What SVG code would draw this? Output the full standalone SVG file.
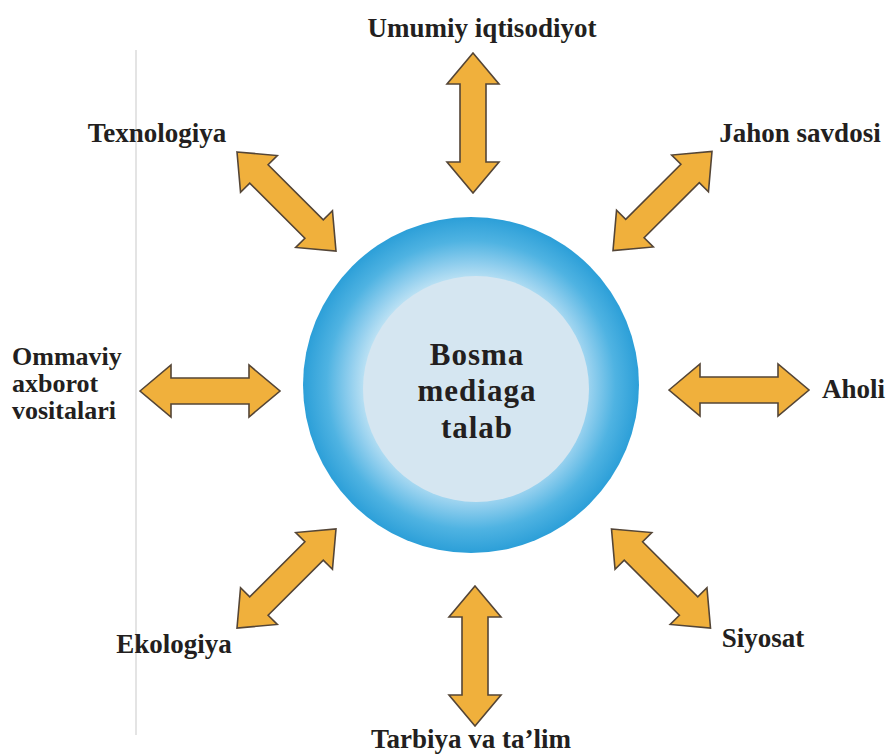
<svg xmlns="http://www.w3.org/2000/svg" width="889" height="755" viewBox="0 0 889 755">
<style>
.lbl{font-family:'Liberation Serif','Times New Roman',serif;font-weight:700;font-size:27px;fill:#231f20}
.sm{font-size:26px}
.ctr{font-family:'Liberation Serif','Times New Roman',serif;font-weight:700;font-size:31px;fill:#231f20;letter-spacing:1px}
.arr{fill:#f0b03c;stroke:#544536;stroke-width:1.6;stroke-linejoin:miter}
</style>
<defs>
<radialGradient id="ring" cx="0.5" cy="0.5" r="0.5">
<stop offset="0.6" stop-color="#cbe8f6"/>
<stop offset="0.72" stop-color="#92cfee"/>
<stop offset="0.86" stop-color="#4fb3e2"/>
<stop offset="1" stop-color="#2c9fd8"/>
</radialGradient>
<path id="dbl" d="M -70 0 L -39 -26 L -39 -13 L 39 -13 L 39 -26 L 70 0 L 39 26 L 39 13 L -39 13 L -39 26 Z"/>
</defs>
<rect width="889" height="755" fill="#ffffff"/>
<line x1="136" y1="50" x2="136" y2="735" stroke="#d2d2d2" stroke-width="1.2"/>
<g id="connectors">
<use href="#dbl" class="arr" transform="translate(473,123) rotate(90)"/>
<use href="#dbl" class="arr" transform="translate(475,656) rotate(90)"/>
<use href="#dbl" class="arr" transform="translate(210,391)"/>
<use href="#dbl" class="arr" transform="translate(739,390)"/>
<use href="#dbl" class="arr" transform="translate(286.5,201.5) rotate(45)"/>
<use href="#dbl" class="arr" transform="translate(662.5,201) rotate(-45)"/>
<use href="#dbl" class="arr" transform="translate(286.5,578.5) rotate(-45)"/>
<use href="#dbl" class="arr" transform="translate(661,578.5) rotate(45)"/>
</g>
<g id="center">
<circle cx="471" cy="385" r="168" fill="url(#ring)"/>
<circle cx="476" cy="389" r="113" fill="#d5e6f1"/>
<text class="ctr" text-anchor="middle" x="477" y="365">Bosma</text>
<text class="ctr" text-anchor="middle" x="477" y="401">mediaga</text>
<text class="ctr" text-anchor="middle" x="477" y="438">talab</text>
</g>
<g id="n-umumiy"><text class="lbl" x="482" y="37" text-anchor="middle">Umumiy iqtisodiyot</text></g>
<g id="n-texnologiya"><text class="lbl" x="157" y="142" text-anchor="middle">Texnologiya</text></g>
<g id="n-jahon"><text class="lbl" x="800" y="142" text-anchor="middle">Jahon savdosi</text></g>
<g id="n-ommaviy">
<text class="lbl sm" x="12" y="365">Ommaviy</text>
<text class="lbl sm" x="12" y="392">axborot</text>
<text class="lbl sm" x="12" y="419">vositalari</text>
</g>
<g id="n-aholi"><text class="lbl" x="822" y="398">Aholi</text></g>
<g id="n-ekologiya"><text class="lbl" x="174" y="653" text-anchor="middle">Ekologiya</text></g>
<g id="n-siyosat"><text class="lbl" x="763" y="647" text-anchor="middle">Siyosat</text></g>
<g id="n-tarbiya"><text class="lbl" x="471" y="748" text-anchor="middle">Tarbiya va ta’lim</text></g>
</svg>
